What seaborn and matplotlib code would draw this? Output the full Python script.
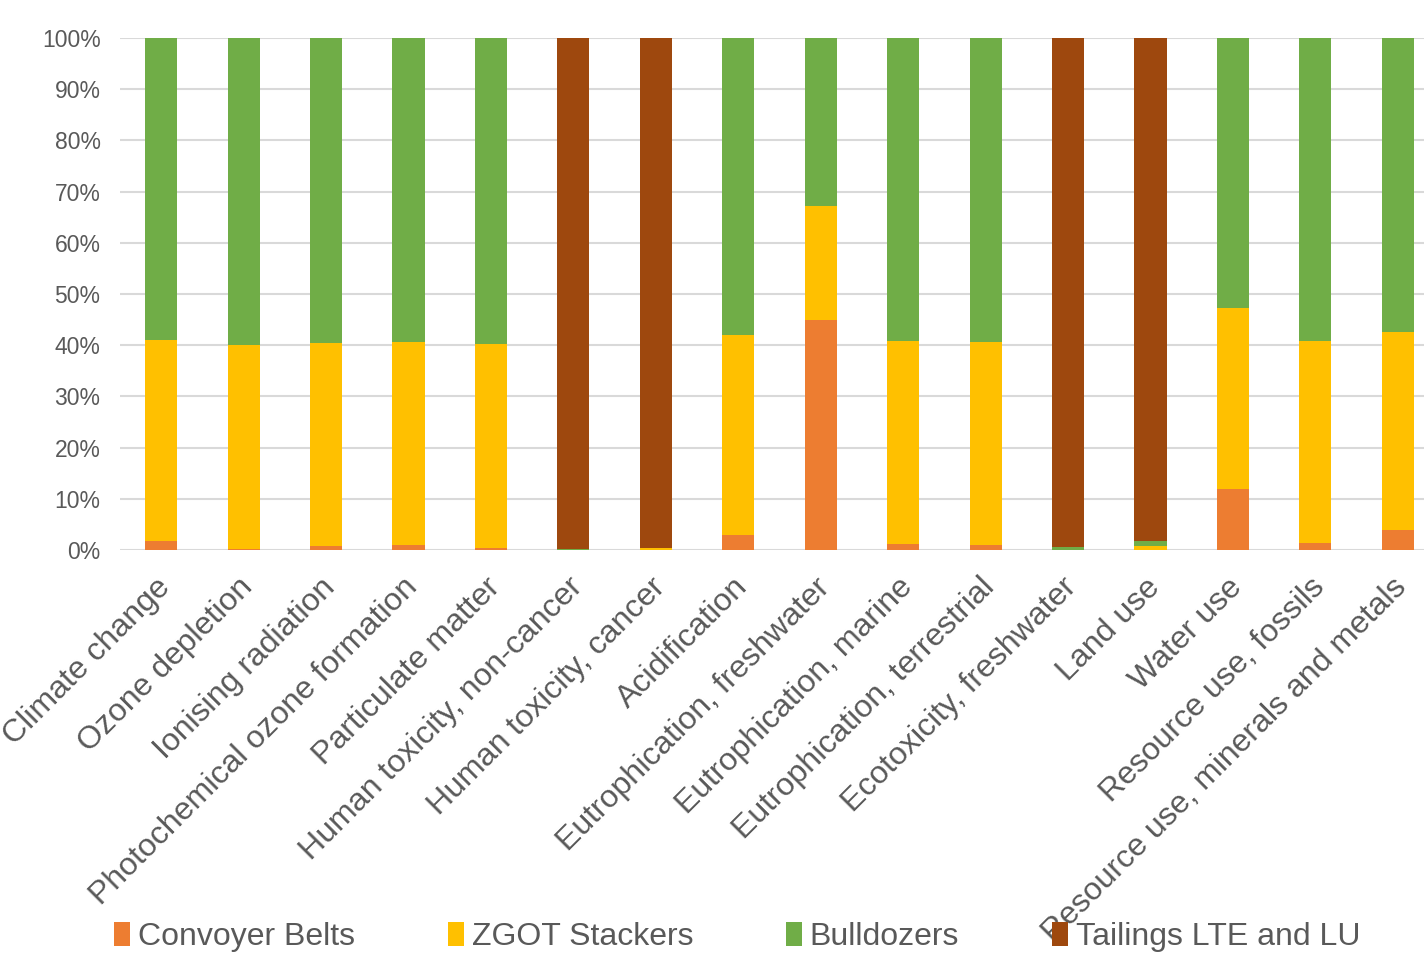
import numpy as np
import pandas as pd
import seaborn as sns
import matplotlib.pyplot as plt
import matplotlib.transforms as mtransforms
from matplotlib.patches import Patch
from matplotlib.ticker import FuncFormatter

sns.set_theme(style="white")
plt.rcParams['font.family'] = ['Liberation Sans', 'DejaVu Sans']

categories = ["Climate change", "Ozone depletion", "Ionising radiation",
              "Photochemical ozone formation", "Particulate matter",
              "Human toxicity, non-cancer", "Human toxicity, cancer",
              "Acidification", "Eutrophication, freshwater",
              "Eutrophication, marine", "Eutrophication, terrestrial",
              "Ecotoxicity, freshwater", "Land use", "Water use",
              "Resource use, fossils", "Resource use, minerals and metals"]

series_names = ["Convoyer Belts", "ZGOT Stackers", "Bulldozers", "Tailings LTE and LU"]

convoyer_belts = [1.8, 0.1, 0.7, 1.0, 0.3, 0.0, 0.0, 3.0, 45.0, 1.1, 0.9, 0.0, 0.0, 11.9, 1.4, 4.0]
zgot_stackers = [39.3, 39.9, 39.7, 39.6, 39.9, 0.0, 0.3, 39.0, 22.1, 39.7, 39.7, 0.0, 0.8, 35.4, 39.4, 38.6]
bulldozers = [58.9, 60.0, 59.6, 59.4, 59.8, 0.1, 0.1, 58.0, 32.9, 59.2, 59.4, 0.5, 1.0, 52.7, 59.2, 57.4]
tailings = [0.0, 0.0, 0.0, 0.0, 0.0, 99.9, 99.6, 0.0, 0.0, 0.0, 0.0, 99.5, 98.2, 0.0, 0.0, 0.0]

colors = ["#ED7D31", "#FFC000", "#70AD47", "#9E480E"]

df = pd.DataFrame({"category": categories,
                   series_names[0]: convoyer_belts,
                   series_names[1]: zgot_stackers,
                   series_names[2]: bulldozers,
                   series_names[3]: tailings})

# 100% stacked -> normalise each row, then cumulative sums
vals = df[series_names]
vals = vals.div(vals.sum(axis=1), axis=0) * 100
cum = vals.cumsum(axis=1)

fig = plt.figure(figsize=(14.24, 9.55), dpi=100)
ax = fig.add_axes([120 / 1424, 1 - 550 / 955, (1439 - 120) / 1424, (550 - 38) / 955])

# draw tallest stack first so lower segments sit on top
for i in reversed(range(len(series_names))):
    sns.barplot(x=df["category"], y=cum[series_names[i]], color=colors[i],
                width=0.39, linewidth=0, saturation=1, ax=ax, zorder=3)

ax.set_ylim(0, 100)
ax.set_xlim(-0.5, len(categories) - 0.5)
ax.set_yticks(np.arange(0, 101, 10))
ax.yaxis.set_major_formatter(FuncFormatter(lambda v, p: f"{int(v)}%"))
ax.grid(axis="y", color="#D9D9D9", linewidth=1.5, zorder=0)
ax.grid(axis="x", visible=False)
ax.set_axisbelow(True)
for s in ax.spines.values():
    s.set_visible(False)
ax.set_xlabel("")
ax.set_ylabel("")
ax.tick_params(axis="y", labelsize=16.5, colors="#595959", length=0, pad=14)
ax.tick_params(axis="x", labelsize=23, colors="#595959", length=0, pad=16)
offset = mtransforms.ScaledTranslation(-6 / 100, 0, fig.dpi_scale_trans)
for lab in ax.get_xticklabels():
    lab.set_rotation(45)
    lab.set_ha("right")
    lab.set_rotation_mode("anchor")
    lab.set_transform(lab.get_transform() + offset)

handles = [Patch(facecolor=c, edgecolor="none") for c in colors]
leg = fig.legend(handles, series_names, loc="center", ncol=4,
                 bbox_to_anchor=(0.5176, 1 - 937 / 955), frameon=False,
                 fontsize=23, handlelength=0.5, handleheight=0.75,
                 handletextpad=0.25, columnspacing=2.9)
for t in leg.get_texts():
    t.set_color("#595959")

fig.savefig("out.png", dpi=100)
